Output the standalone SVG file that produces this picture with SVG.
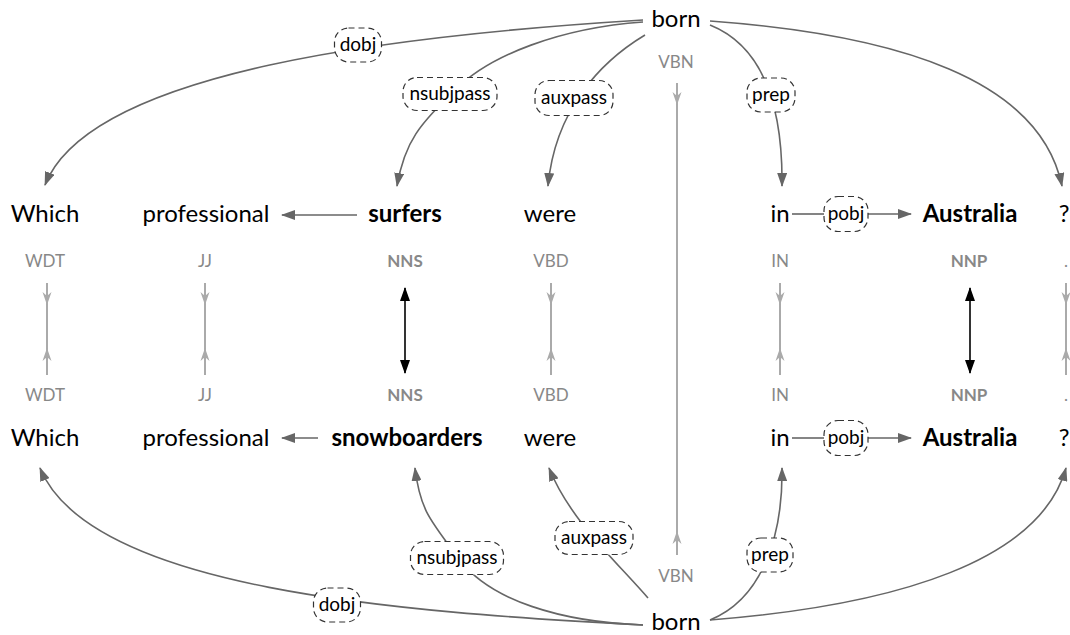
<svg xmlns="http://www.w3.org/2000/svg" width="1070" height="635" viewBox="0 0 1070 635">
<style>
text{font-family:Lato,"Liberation Sans",sans-serif}
.w{font-size:24px;fill:#000;text-anchor:middle}
.b{font-weight:bold}
.pos{font-size:17px;fill:#888;text-anchor:middle}
.lbl{font-size:19px;fill:#000;text-anchor:middle}
.box{fill:#fff;stroke:#333;stroke-width:1.2;stroke-dasharray:6 4}
.dep{fill:none;stroke:#666;stroke-width:1.6;marker-end:url(#dh)}
.plain{fill:none;stroke:#666;stroke-width:1.6}
.g{stroke:#aaa;stroke-width:2;fill:none}
.bk{stroke:#000;stroke-width:1.6;fill:none;marker-start:url(#bh);marker-end:url(#bh)}
</style>
<defs>
<marker id="dh" markerUnits="userSpaceOnUse" viewBox="0 0 14 10" markerWidth="14" markerHeight="10" refX="13" refY="5" orient="auto"><path d="M0,0 L14,5 L0,10 Z" fill="#666"/></marker>
<marker id="bh" markerUnits="userSpaceOnUse" viewBox="0 0 14 10" markerWidth="14" markerHeight="10" refX="13" refY="5" orient="auto-start-reverse"><path d="M0,0 L14,5 L0,10 Z" fill="#000"/></marker>
<path id="ah" d="M0,0 L-4.5,-13 L0,-9 L4.5,-13 Z" fill="#aaa"/>
</defs>

<g id="connectors">
  <path class="dep" d="M643,20 C400,35 90,70 45,185"/>
  <path class="dep" d="M643,22 C560,28 490,55 455,90 S405,140 397,186"/>
  <path class="dep" d="M645,35 C600,62 555,110 548,186"/>
  <path class="dep" d="M710,25 C760,45 783,100 782,186"/>
  <path class="dep" d="M710,21 C900,35 1040,80 1062,186"/>
  <path class="dep" d="M357,215 L282,215"/>
  <path class="plain" d="M792,214 L824,214"/>
  <path class="dep" d="M868,214 L911,214"/>
  <path class="dep" d="M643,625 C400,612 90,590 40,468"/>
  <path class="dep" d="M643,625 C560,622 490,600 460,560 S420,510 415,468"/>
  <path class="dep" d="M648,598 C615,560 570,520 549,468"/>
  <path class="dep" d="M710,620 C760,600 783,540 782,468"/>
  <path class="dep" d="M710,620 C900,605 1040,560 1066,468"/>
  <path class="dep" d="M318,438 L282,438"/>
  <path class="plain" d="M792,438 L824,438"/>
  <path class="dep" d="M868,438 L911,438"/>
  <line class="g" x1="47" y1="283" x2="47" y2="375"/>
  <line class="g" x1="205" y1="283" x2="205" y2="375"/>
  <line class="g" x1="551" y1="283" x2="551" y2="375"/>
  <line class="g" x1="780" y1="283" x2="780" y2="375"/>
  <line class="g" x1="1066" y1="283" x2="1066" y2="375"/>
  <line class="g" x1="677" y1="83" x2="677" y2="555"/>
  <use href="#ah" transform="translate(47,305)"/>
  <use href="#ah" transform="translate(47,348) rotate(180)"/>
  <use href="#ah" transform="translate(205,305)"/>
  <use href="#ah" transform="translate(205,348) rotate(180)"/>
  <use href="#ah" transform="translate(551,305)"/>
  <use href="#ah" transform="translate(551,348) rotate(180)"/>
  <use href="#ah" transform="translate(780,305)"/>
  <use href="#ah" transform="translate(780,348) rotate(180)"/>
  <use href="#ah" transform="translate(1066,305)"/>
  <use href="#ah" transform="translate(1066,348) rotate(180)"/>
  <use href="#ah" transform="translate(677,105)"/>
  <use href="#ah" transform="translate(677,531) rotate(180)"/>
  <line class="bk" x1="405" y1="288" x2="405" y2="373"/>
  <line class="bk" x1="970" y1="288" x2="970" y2="373"/>
</g>

<g id="labels">
  <g id="lbl-dobj-top"><rect class="box" x="334.5" y="28" width="47" height="34" rx="14"/><text class="lbl" x="358" y="51">dobj</text></g>
  <g id="lbl-nsubjpass-top"><rect class="box" x="403" y="77.5" width="94" height="33" rx="14"/><text class="lbl" x="450" y="100">nsubjpass</text></g>
  <g id="lbl-auxpass-top"><rect class="box" x="535" y="80.5" width="78" height="35" rx="14"/><text class="lbl" x="574" y="104">auxpass</text></g>
  <g id="lbl-prep-top"><rect class="box" x="747" y="78" width="48" height="34" rx="14"/><text class="lbl" x="771" y="101">prep</text></g>
  <g id="lbl-pobj-top"><rect class="box" x="824" y="196.5" width="44" height="35" rx="14"/><text class="lbl" x="846" y="220">pobj</text></g>
  <g id="lbl-dobj-bot"><rect class="box" x="313.5" y="588" width="47" height="34" rx="14"/><text class="lbl" x="337" y="611">dobj</text></g>
  <g id="lbl-nsubjpass-bot"><rect class="box" x="410.5" y="541.5" width="93" height="33" rx="14"/><text class="lbl" x="457" y="564">nsubjpass</text></g>
  <g id="lbl-auxpass-bot"><rect class="box" x="555" y="521.5" width="78" height="33" rx="14"/><text class="lbl" x="594" y="544">auxpass</text></g>
  <g id="lbl-prep-bot"><rect class="box" x="747" y="538" width="46" height="34" rx="14"/><text class="lbl" x="770" y="561">prep</text></g>
  <g id="lbl-pobj-bot"><rect class="box" x="824" y="420.5" width="44" height="35" rx="14"/><text class="lbl" x="846" y="444">pobj</text></g>
</g>

<g id="top-root"><text class="w" x="676" y="27">born</text><text class="pos" x="676" y="68">VBN</text></g>
<g id="bottom-root"><text class="pos" x="676" y="582">VBN</text><text class="w" x="676" y="630">born</text></g>

<g id="row1">
  <g id="t-which"><text class="w" x="45" y="222">Which</text><text class="pos" x="45" y="267">WDT</text></g>
  <g id="t-professional"><text class="w" x="206" y="222">professional</text><text class="pos" x="205" y="267">JJ</text></g>
  <g id="t-surfers"><text class="w b" x="405" y="222">surfers</text><text class="pos b" x="405" y="267">NNS</text></g>
  <g id="t-were"><text class="w" x="550" y="222">were</text><text class="pos" x="551" y="267">VBD</text></g>
  <g id="t-in"><text class="w" x="780" y="222">in</text><text class="pos" x="780" y="267">IN</text></g>
  <g id="t-australia"><text class="w b" x="970" y="222">Australia</text><text class="pos b" x="969" y="267">NNP</text></g>
  <g id="t-q"><text class="w" x="1064" y="222">?</text><text class="pos" x="1066" y="267">.</text></g>
</g>
<g id="row2">
  <g id="s-which"><text class="pos" x="45" y="401">WDT</text><text class="w" x="45" y="446">Which</text></g>
  <g id="s-professional"><text class="pos" x="205" y="401">JJ</text><text class="w" x="206" y="446">professional</text></g>
  <g id="s-snowboarders"><text class="pos b" x="405" y="401">NNS</text><text class="w b" x="407" y="446">snowboarders</text></g>
  <g id="s-were"><text class="pos" x="551" y="401">VBD</text><text class="w" x="550" y="446">were</text></g>
  <g id="s-in"><text class="pos" x="780" y="401">IN</text><text class="w" x="780" y="446">in</text></g>
  <g id="s-australia"><text class="pos b" x="969" y="401">NNP</text><text class="w b" x="970" y="446">Australia</text></g>
  <g id="s-q"><text class="pos" x="1066" y="401">.</text><text class="w" x="1064" y="446">?</text></g>
</g>
</svg>
